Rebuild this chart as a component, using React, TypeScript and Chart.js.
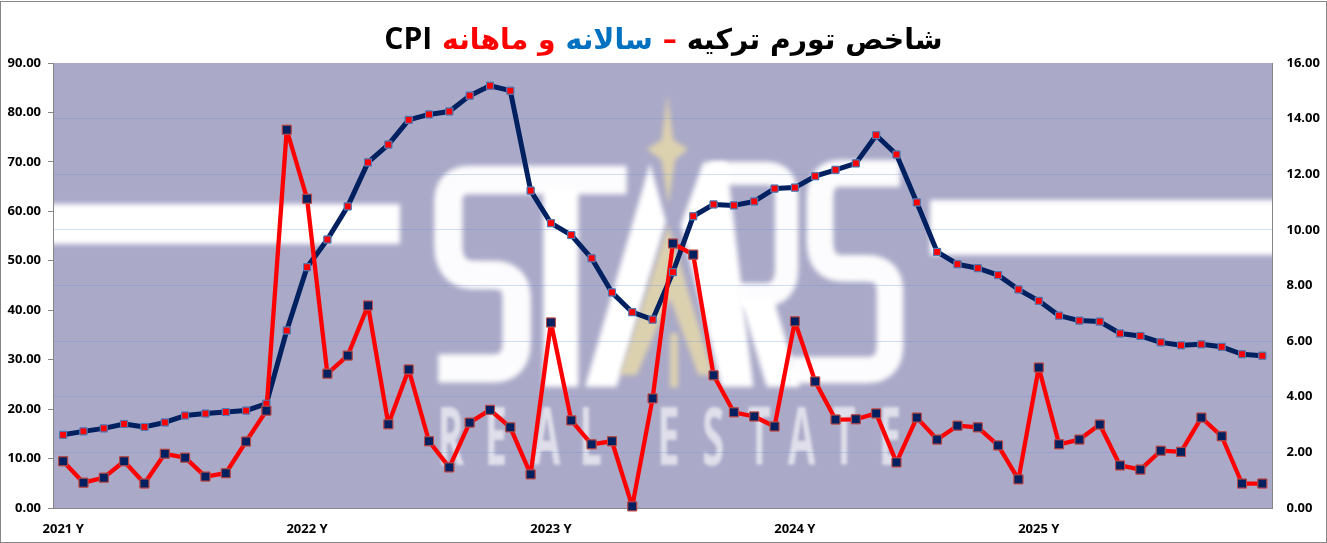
import React, { useEffect, useRef } from "react";
import { Chart, registerables } from "chart.js";

Chart.register(...registerables);

const categories = [
  "2021 Y", "", "", "", "", "", "", "", "", "", "", "",
  "2022 Y", "", "", "", "", "", "", "", "", "", "", "",
  "2023 Y", "", "", "", "", "", "", "", "", "", "", "",
  "2024 Y", "", "", "", "", "", "", "", "", "", "", "",
  "2025 Y", "", "", "", "", "", "", "", "", "", "", "",
];

const annualInflation = [
  14.8, 15.5, 16.1, 17.0, 16.4, 17.3, 18.7, 19.1, 19.4, 19.7, 21.1, 35.9,
  48.7, 54.3, 61.0, 69.9, 73.5, 78.5, 79.6, 80.2, 83.4, 85.4, 84.4, 64.2,
  57.6, 55.2, 50.5, 43.6, 39.6, 38.1, 47.7, 59.0, 61.4, 61.2, 62.0, 64.6,
  64.8, 67.1, 68.4, 69.7, 75.4, 71.5, 61.8, 51.8, 49.3, 48.5, 47.1, 44.2,
  41.9, 38.9, 37.9, 37.7, 35.3, 34.8, 33.5, 32.9, 33.1, 32.6, 31.1, 30.8,
];

const monthlyInflation = [
  1.68, 0.91, 1.09, 1.68, 0.88, 1.95, 1.81, 1.13, 1.25, 2.39, 3.5, 13.6,
  11.12, 4.83, 5.48, 7.28, 3.01, 4.98, 2.4, 1.46, 3.07, 3.53, 2.9, 1.21,
  6.67, 3.15, 2.29, 2.4, 0.06, 3.94, 9.51, 9.11, 4.77, 3.44, 3.29, 2.93,
  6.71, 4.55, 3.18, 3.19, 3.4, 1.64, 3.25, 2.46, 2.96, 2.9, 2.25, 1.03,
  5.05, 2.29, 2.46, 3.0, 1.53, 1.38, 2.06, 2.02, 3.25, 2.58, 0.88, 0.88,
];

const NAVY = "#002060";
const RED = "#ff0000";
const AXIS = "#868686";
const PLOT_BG = "#aaa9c8";
const TICK_FONT = { family: '"Noto Sans", sans-serif', size: 13, weight: "bold" as const };

// Background logo, traced on a 3x grid anchored at (420, 85).
function logoPlugin() {
  const px = (z: number) => 420 + z / 3;
  const py = (z: number) => 85 + z / 3;
  const poly = (ctx: CanvasRenderingContext2D, pts: number[][]) => {
    ctx.beginPath();
    pts.forEach(([x, y], i) => (i ? ctx.lineTo(px(x), py(y)) : ctx.moveTo(px(x), py(y))));
    ctx.closePath();
    ctx.fill();
  };
  const stroke = (ctx: CanvasRenderingContext2D, segs: number[][], width: number) => {
    ctx.lineWidth = width / 3;
    ctx.beginPath();
    segs.forEach((s, i) => {
      if (i === 0) ctx.moveTo(px(s[0]), py(s[1]));
      else if (s.length === 2) ctx.lineTo(px(s[0]), py(s[1]));
      else ctx.quadraticCurveTo(px(s[0]), py(s[1]), px(s[2]), py(s[3]));
    });
    ctx.stroke();
  };
  return {
    id: "logoBackground",
    beforeDraw(chart: any) {
      const { ctx, chartArea: a, width, height } = chart;
      ctx.save();
      ctx.fillStyle = "#ffffff";
      ctx.fillRect(0, 0, width, height);
      ctx.strokeStyle = AXIS;
      ctx.lineWidth = 1;
      ctx.strokeRect(0.5, 1.5, width - 1, height - 2);
      ctx.fillStyle = PLOT_BG;
      ctx.fillRect(a.left, a.top, a.right - a.left, a.bottom - a.top);
      ctx.beginPath();
      ctx.rect(a.left, a.top, a.right - a.left, a.bottom - a.top);
      ctx.clip();

      ctx.filter = "blur(2.5px)";
      ctx.fillStyle = "#ffffff";
      ctx.fillRect(a.left - 10, 204, 400 - a.left + 10, 40);
      ctx.fillRect(930, 200, a.right + 10 - 930, 55);

      // STARS
      ctx.strokeStyle = "rgba(255,255,255,0.97)";
      ctx.lineJoin = "miter";
      ctx.lineCap = "butt";
      stroke(ctx, [[620, 285], [150, 285], [85, 285, 85, 350], [85, 480], [85, 570, 165, 570], [220, 570], [290, 570, 290, 640], [290, 770], [290, 850, 220, 850], [55, 850]], 85);
      poly(ctx, [[370, 310], [475, 310], [475, 905], [370, 905]]);
      poly(ctx, [[495, 905], [590, 905], [738, 410], [690, 235]]);
      poly(ctx, [[850, 232], [920, 232], [1000, 905], [905, 905], [782, 420]]);
      stroke(ctx, [[870, 265], [1040, 265], [1100, 265, 1100, 340], [1100, 550], [1100, 630, 1030, 630], [950, 630]], 70);
      poly(ctx, [[1060, 640], [1140, 905], [1040, 905], [960, 640]]);
      stroke(ctx, [[1440, 265], [1260, 265], [1200, 265, 1200, 340], [1200, 470], [1200, 550, 1270, 550], [1340, 550], [1410, 550, 1410, 620], [1410, 780], [1410, 855, 1340, 855], [1110, 855]], 80);

      // Gold star and triangle
      ctx.fillStyle = "rgba(240,225,165,0.72)";
      poly(ctx, [[742, 30], [760, 165], [805, 192], [765, 225], [745, 360], [725, 225], [680, 192], [725, 165]]);
      ctx.beginPath();
      ctx.moveTo(px(745), py(420));
      ctx.lineTo(px(880), py(870));
      ctx.lineTo(px(835), py(870));
      ctx.lineTo(px(750), py(640));
      ctx.lineTo(px(650), py(870));
      ctx.lineTo(px(600), py(870));
      ctx.closePath();
      ctx.fill();
      ctx.fillRect(px(750), py(745), 8, 54);

      // REAL ESTATE
      ctx.filter = "blur(1.5px)";
      ctx.fillStyle = "rgba(255,255,255,0.62)";
      ctx.font = 'bold 80px "Open Sans", sans-serif';
      ctx.textAlign = "center";
      ctx.textBaseline = "alphabetic";
      const word: [string, number][] = [
        ["R", 92], ["E", 228], ["A", 380], ["L", 512], ["E", 745],
        ["S", 880], ["T", 1018], ["A", 1145], ["T", 1272], ["E", 1410],
      ];
      word.forEach(([c, z]) => {
        ctx.save();
        ctx.translate(420 + z / 3, 465);
        ctx.scale(0.5, 1);
        ctx.fillText(c, 0, 0);
        ctx.restore();
      });
      ctx.restore();
    },
    // Markers of both series sit above both lines.
    afterDatasetsDraw(chart: any) {
      const { ctx } = chart;
      ctx.save();
      [1, 0].forEach((i) => chart.getDatasetMeta(i).data.forEach((p: any) => p.draw(ctx)));
      ctx.restore();
    },
  };
}

export default function App() {
  const ref = useRef<HTMLCanvasElement>(null);

  useEffect(() => {
    const chart = new Chart(ref.current!, {
      type: "line",
      plugins: [logoPlugin()],
      data: {
        labels: categories,
        datasets: [
          {
            label: "ماهانه",
            data: monthlyInflation,
            yAxisID: "y1",
            order: 1,
            clip: false,
            borderColor: RED,
            borderWidth: 4.3,
            borderJoinStyle: "round",
            tension: 0,
            pointStyle: "rect",
            pointRadius: 6.3,
            pointBackgroundColor: NAVY,
            pointBorderColor: "#be4b48",
            pointBorderWidth: 1,
          },
          {
            label: "سالانه",
            data: annualInflation,
            yAxisID: "y",
            order: 2,
            clip: false,
            borderColor: NAVY,
            borderWidth: 5,
            borderJoinStyle: "round",
            tension: 0,
            pointStyle: "rect",
            pointRadius: 4.9,
            pointBackgroundColor: RED,
            pointBorderColor: "#4a7ebb",
            pointBorderWidth: 1,
          },
        ],
      },
      options: {
        responsive: false,
        animation: false,
        events: [],
        layout: { padding: { top: 63, left: 0, right: 0, bottom: 0 } },
        plugins: { legend: { display: false }, title: { display: false }, tooltip: { enabled: false } },
        scales: {
          x: {
            offset: true,
            grid: { display: false },
            border: { color: AXIS, width: 1 },
            ticks: { autoSkip: false, maxRotation: 0, minRotation: 0, color: "#000", font: TICK_FONT, padding: 5 },
            afterFit: (s: any) => { s.height = 35; },
          },
          y: {
            position: "left",
            min: 0,
            max: 90,
            grid: { drawOnChartArea: false, tickLength: 5, tickColor: AXIS },
            border: { color: AXIS, width: 1 },
            ticks: { stepSize: 10, color: "#000", font: TICK_FONT, padding: 7, callback: (v: any) => Number(v).toFixed(2) },
            afterFit: (s: any) => { s.width = 53; },
          },
          y1: {
            position: "right",
            min: 0,
            max: 16,
            grid: {
              drawTicks: false,
              lineWidth: 1,
              color: (c: any) => (c.tick && (c.tick.value === 0 || c.tick.value === 16) ? "transparent" : "rgba(105,145,215,0.3)"),
            },
            border: { color: AXIS, width: 1 },
            ticks: { stepSize: 2, color: "#000", font: TICK_FONT, padding: 14, callback: (v: any) => Number(v).toFixed(2) },
            afterFit: (s: any) => { s.width = 54.5; },
          },
        },
      },
    });
    return () => chart.destroy();
  }, []);

  return (
    <div style={{ position: "absolute", left: 0, top: 0, width: 1327, height: 543 }}>
      <canvas ref={ref} width={1327} height={543} style={{ display: "block" }} />
      <div
        dir="rtl"
        style={{
          position: "absolute",
          left: 0,
          right: 0,
          top: 18,
          textAlign: "center",
          whiteSpace: "nowrap",
          fontFamily: '"DejaVu Sans", sans-serif',
          fontWeight: "bold",
          fontSize: 28.3,
          lineHeight: "40px",
          color: "#000",
        }}
      >
        <span>شاخص تورم ترکیه </span>
        <span style={{ color: "#ff0000" }}>– </span>
        <span style={{ color: "#0070c0" }}>سالانه </span>
        <span style={{ color: "#ff0000" }}>و ماهانه </span>
        <span style={{ fontFamily: '"Open Sans", sans-serif', fontSize: 30 }}>CPI</span>
      </div>
    </div>
  );
}
